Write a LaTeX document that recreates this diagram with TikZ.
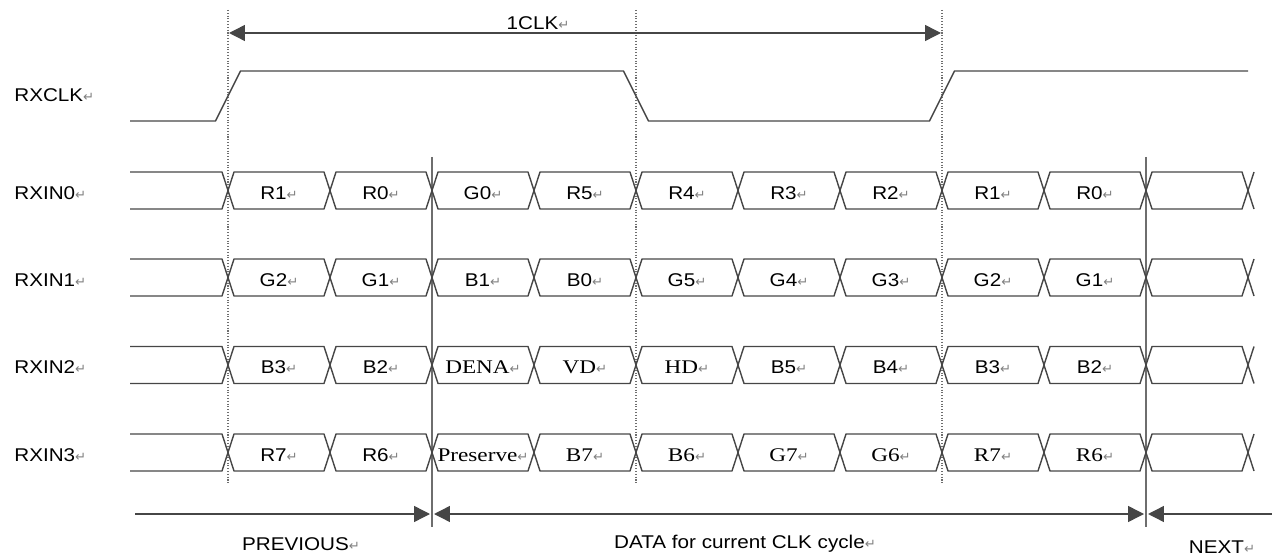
\documentclass[tikz,border=0pt]{standalone}
\usepackage{fontspec}
\setmainfont[FakeStretch=1.12]{Liberation Sans}
\newfontfamily\minfont[FakeStretch=1.2]{Liberation Serif}
\newfontfamily\symfont{DejaVu Sans}
\usepackage{xcolor}
\usepackage{tikz}
\usetikzlibrary{arrows.meta}
\definecolor{wire}{RGB}{70, 70, 70}
\definecolor{guide}{RGB}{110, 110, 110}
\newcommand\retmark{{\symfont\fontsize{7.5}{7.5}\selectfont\color{black!50}↵}}

\begin{document}
\begin{tikzpicture}[x=0.02cm, y=-0.02cm,
    sig/.style={draw=wire, line width=0.8pt, line join=round},
    dotline/.style={draw=guide, line width=0.6pt, densely dotted},
    divider/.style={draw=guide, line width=0.8pt},
    span/.style={draw=wire, line width=0.8pt},
    txt/.style={font=\fontsize{10.5}{12}\selectfont, anchor=base, inner sep=0pt},
    sertxt/.style={txt, font=\fontsize{11}{12}\selectfont\minfont}]
  \useasboundingbox (0,0) rectangle (1274,560);
  \foreach \x in {228, 636, 942} {
    \draw[dotline] (\x,10) -- (\x,484);
  }
  \foreach \x in {432, 1146} {
    \draw[divider] (\x,157) -- (\x,527);
  }
  \node[txt, anchor=base west] (clk-name) at (14,102) {RXCLK\retmark};
  \draw[sig] (130,121) -- (215.5,121) -- (240.5,71) -- (623.5,71)
    -- (648.5,121) -- (929.5,121) -- (954.5,71) -- (1248,71);
  \foreach \r/\yc in {0/190.5, 1/277.5, 2/365, 3/452.5} {
    \node[txt, anchor=base west] (in\r-name) at (14,{\yc+9}) {RXIN\r\retmark};
    \draw[sig] (130,{\yc-18.5}) -- (222,{\yc-18.5}) -- (228,\yc)
      -- (222,{\yc+18.5}) -- (130,{\yc+18.5});
    \foreach \k in {0,...,9} {
      \draw[sig] ({228+102*\k},\yc) -- ({234+102*\k},{\yc-18.5})
        -- ({324+102*\k},{\yc-18.5}) -- ({330+102*\k},\yc)
        -- ({324+102*\k},{\yc+18.5}) -- ({234+102*\k},{\yc+18.5}) -- cycle;
    }
    \draw[sig] (1254,{\yc-18.5}) -- (1248,\yc) -- (1254,{\yc+18.5});
  }
  \foreach \k/\t in {0/R1, 1/R0, 2/G0, 3/R5, 4/R4, 5/R3, 6/R2, 7/R1, 8/R0} {
    \node[txt] (in0-\k) at ({279+102*\k},199.5) {\t\retmark};
  }
  \foreach \k/\t in {0/G2, 1/G1, 2/B1, 3/B0, 4/G5, 5/G4, 6/G3, 7/G2, 8/G1} {
    \node[txt] (in1-\k) at ({279+102*\k},286.5) {\t\retmark};
  }
  \foreach \k/\t in {0/B3, 1/B2, 5/B5, 6/B4, 7/B3, 8/B2} {
    \node[txt] (in2-\k) at ({279+102*\k},374) {\t\retmark};
  }
  \foreach \k/\t in {2/DENA, 3/VD, 4/HD} {
    \node[sertxt] (in2-\k) at ({279+102*\k},374) {\t\retmark};
  }
  \foreach \k/\t in {0/R7, 1/R6} {
    \node[txt] (in3-\k) at ({279+102*\k},461.5) {\t\retmark};
  }
  \foreach \k/\t in {2/Preserve, 3/B7, 4/B6, 5/G7, 6/G6, 7/R7, 8/R6} {
    \node[sertxt] (in3-\k) at ({279+102*\k},461.5) {\t\retmark};
  }
  \coordinate (clk-a) at (229,33);
  \coordinate (clk-b) at (941,33);
  \draw[span, {Triangle[length=9pt, width=9pt]}-{Triangle[length=9pt, width=9pt]}] (clk-a) -- (clk-b);
  \node[txt] (clk-len) at (538,30) {1CLK\retmark};
  \coordinate (prev-a) at (135,514);
  \coordinate (prev-b) at (430,514);
  \coordinate (cur-a) at (434,514);
  \coordinate (cur-b) at (1144,514);
  \coordinate (next-a) at (1148,514);
  \coordinate (next-b) at (1272,514);
  \draw[span, -{Triangle[length=9pt, width=9pt]}] (prev-a) -- (prev-b);
  \draw[span, {Triangle[length=9pt, width=9pt]}-{Triangle[length=9pt, width=9pt]}] (cur-a) -- (cur-b);
  \draw[span, {Triangle[length=9pt, width=9pt]}-] (next-a) -- (next-b);
  \node[txt] (prev-lbl) at (301,550) {PREVIOUS\retmark};
  \node[txt] (cur-lbl) at (745,548) {DATA for current CLK cycle\retmark};
  \node[txt] (next-lbl) at (1222,553) {NEXT\retmark};
\end{tikzpicture}
\end{document}
